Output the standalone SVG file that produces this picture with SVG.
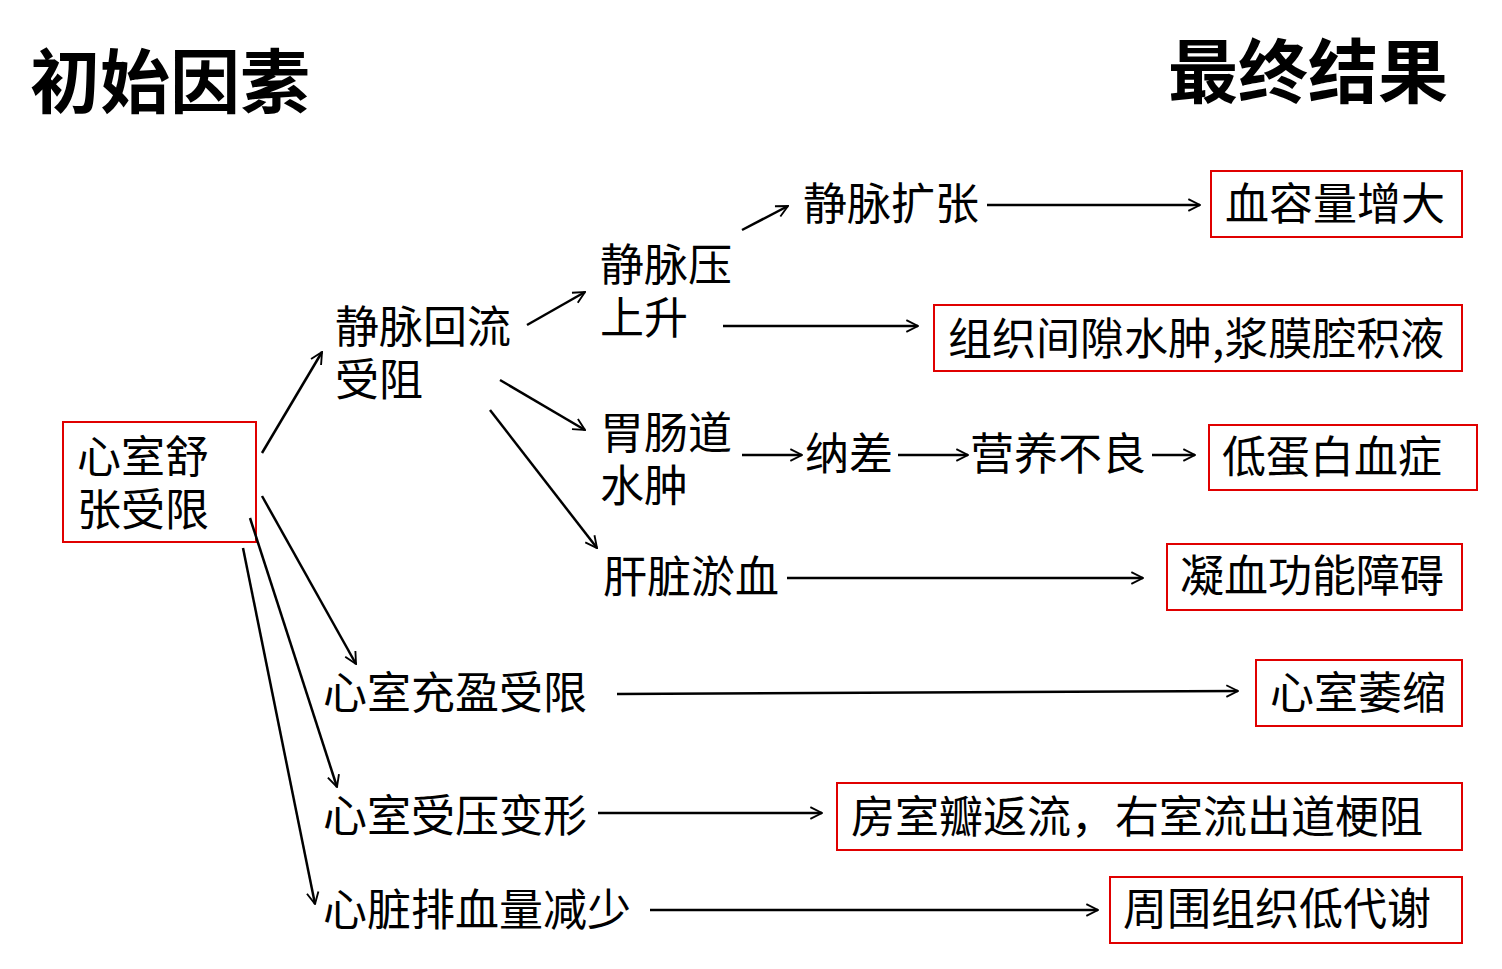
<svg xmlns="http://www.w3.org/2000/svg" width="1502" height="969" viewBox="0 0 1502 969">
<style>
text{font-family:"Noto Sans CJK SC","Liberation Sans",sans-serif;font-size:44px;fill:#000}
.t{font-size:70px;font-weight:bold}
.box{fill:none;stroke:#e00000;stroke-width:2}
#connectors line{stroke:#000;stroke-width:2.5;marker-end:url(#ah)}
</style>
<defs>
<marker id="ah" viewBox="0 0 12 12" refX="11" refY="6" markerWidth="14" markerHeight="14" markerUnits="userSpaceOnUse" orient="auto">
<path d="M1,1 L11,6 L1,11" fill="none" stroke="#000" stroke-width="1.6"/>
</marker>
</defs>
<rect width="1502" height="969" fill="#fff"/>
<text class="t" x="30" y="108">初始因素</text>
<text class="t" x="1168" y="98">最终结果</text>
<g id="n-start"><rect class="box" x="63" y="422" width="193" height="120"/><text x="77" y="473">心室舒</text><text x="77" y="526">张受限</text></g>
<g id="n-jmhl"><text x="335" y="343">静脉回流</text><text x="335" y="396">受阻</text></g>
<g id="n-jmy"><text x="600" y="281">静脉压</text><text x="600" y="334">上升</text></g>
<g id="n-jmkz"><text x="803" y="220">静脉扩张</text></g>
<g id="n-wcd"><text x="600" y="449">胃肠道</text><text x="600" y="502">水肿</text></g>
<g id="n-nc"><text x="805" y="470">纳差</text></g>
<g id="n-yy"><text x="970" y="470">营养不良</text></g>
<g id="n-gz"><text x="603" y="593">肝脏淤血</text></g>
<g id="n-cy"><text x="323" y="709">心室充盈受限</text></g>
<g id="n-sy"><text x="323" y="832">心室受压变形</text></g>
<g id="n-pxl"><text x="323" y="926">心脏排血量减少</text></g>
<g id="r1"><rect class="box" x="1211" y="171" width="251" height="66"/><text x="1225" y="220">血容量增大</text></g>
<g id="r2"><rect class="box" x="934" y="305" width="528" height="66"/><text x="948" y="355">组织间隙水肿,浆膜腔积液</text></g>
<g id="r3"><rect class="box" x="1209" y="425" width="268" height="65"/><text x="1222" y="473">低蛋白血症</text></g>
<g id="r4"><rect class="box" x="1167" y="544" width="295" height="66"/><text x="1180" y="592">凝血功能障碍</text></g>
<g id="r5"><rect class="box" x="1256" y="660" width="206" height="66"/><text x="1270" y="709">心室萎缩</text></g>
<g id="r6"><rect class="box" x="837" y="783" width="625" height="67"/><text x="851" y="833">房室瓣返流，右室流出道梗阻</text></g>
<g id="r7"><rect class="box" x="1110" y="877" width="352" height="66"/><text x="1123" y="925">周围组织低代谢</text></g>
<g id="connectors">
<line x1="262" y1="453" x2="322" y2="352"/>
<line x1="527" y1="325" x2="585" y2="292"/>
<line x1="500" y1="380" x2="585" y2="430"/>
<line x1="490" y1="410" x2="597" y2="548"/>
<line x1="742" y1="230" x2="788" y2="206"/>
<line x1="987" y1="205" x2="1200" y2="205"/>
<line x1="723" y1="326" x2="918" y2="326"/>
<line x1="742" y1="455" x2="802" y2="455"/>
<line x1="898" y1="455" x2="968" y2="455"/>
<line x1="1152" y1="455" x2="1195" y2="455"/>
<line x1="787" y1="578" x2="1143" y2="578"/>
<line x1="262" y1="496" x2="356" y2="664"/>
<line x1="250" y1="518" x2="337" y2="787"/>
<line x1="243" y1="548" x2="315" y2="904"/>
<line x1="617" y1="694" x2="1238" y2="691"/>
<line x1="598" y1="813" x2="822" y2="813"/>
<line x1="650" y1="910" x2="1098" y2="910"/>
</g>
</svg>
